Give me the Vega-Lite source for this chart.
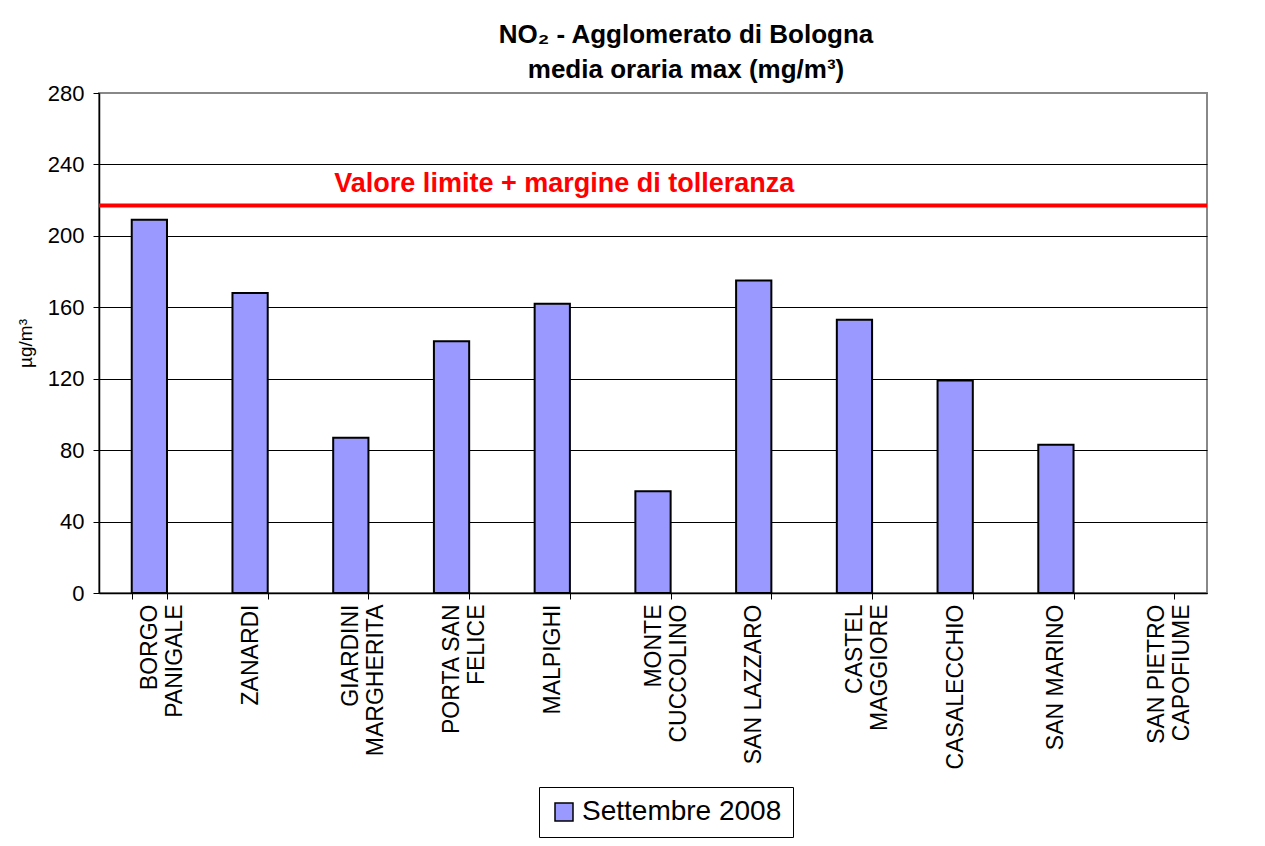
{
  "$schema": "https://vega.github.io/schema/vega-lite/v6.json",
  "width": 1108,
  "height": 500,
  "padding": {"left": 16, "top": 22, "right": 10, "bottom": 5},
  "background": "white",
  "config": {
    "font": "Liberation Sans",
    "view": {"stroke": "#888888", "strokeWidth": 2}
  },
  "title": {
    "text": ["NO₂ - Agglomerato di Bologna", "media oraria max  (mg/m³)"],
    "fontSize": 26,
    "fontWeight": "bold",
    "lineHeight": 35,
    "color": "black",
    "anchor": "middle",
    "offset": -1,
    "dx": 33
  },
  "data": {
    "values": [
      {"station": "BORGO|PANIGALE", "value": 209, "series": "Settembre 2008"},
      {"station": "ZANARDI", "value": 168, "series": "Settembre 2008"},
      {"station": "GIARDINI|MARGHERITA", "value": 87, "series": "Settembre 2008"},
      {"station": "PORTA SAN|FELICE", "value": 141, "series": "Settembre 2008"},
      {"station": "MALPIGHI", "value": 162, "series": "Settembre 2008"},
      {"station": "MONTE|CUCCOLINO", "value": 57, "series": "Settembre 2008"},
      {"station": "SAN LAZZARO", "value": 175, "series": "Settembre 2008"},
      {"station": "CASTEL|MAGGIORE", "value": 153, "series": "Settembre 2008"},
      {"station": "CASALECCHIO", "value": 119, "series": "Settembre 2008"},
      {"station": "SAN MARINO", "value": 83, "series": "Settembre 2008"},
      {"station": "SAN PIETRO|CAPOFIUME", "value": null, "series": "Settembre 2008"}
    ]
  },
  "layer": [
    {
      "mark": {"type": "bar", "stroke": "black", "strokeWidth": 2},
      "encoding": {
        "x": {
          "field": "station",
          "type": "nominal",
          "sort": null,
          "scale": {
            "domain": ["BORGO|PANIGALE", "ZANARDI", "GIARDINI|MARGHERITA", "PORTA SAN|FELICE", "MALPIGHI", "MONTE|CUCCOLINO", "SAN LAZZARO", "CASTEL|MAGGIORE", "CASALECCHIO", "SAN MARINO", "SAN PIETRO|CAPOFIUME"],
            "paddingInner": 0.65,
            "paddingOuter": 0.325
          },
          "axis": {
            "title": null,
            "labelAngle": -90,
            "labelAlign": "right",
            "labelBaseline": "middle",
            "labelExpr": "split(datum.label, '|')",
            "labelFontSize": 23,
            "labelLineHeight": 25,
            "labelColor": "black",
            "labelPadding": 5,
            "tickBand": "extent",
            "tickSize": 6,
            "tickColor": "black",
            "domainColor": "black",
            "domainWidth": 1.5,
            "grid": false
          }
        },
        "y": {
          "field": "value",
          "type": "quantitative",
          "scale": {"domain": [0, 280], "nice": false},
          "axis": {
            "title": "µg/m³",
            "titleFontSize": 19,
            "titleFontWeight": "normal",
            "titleColor": "black",
            "titlePadding": 12,
            "values": [0, 20, 40, 60, 80, 100, 120, 140, 160, 180, 200, 220, 240, 260, 280],
            "labelExpr": "datum.value % 40 === 0 ? datum.label : ''",
            "labelFontSize": 22,
            "labelColor": "black",
            "labelPadding": 9,
            "tickSize": 6,
            "tickColor": "black",
            "domainColor": "black",
            "domainWidth": 1.5,
            "grid": true,
            "gridColor": "black",
            "gridWidth": 1,
            "gridOpacity": {"condition": {"test": "datum.value % 40 === 0 && datum.value < 280", "value": 1}, "value": 0}
          }
        },
        "color": {
          "field": "series",
          "type": "nominal",
          "scale": {"range": ["#9999FF"]},
          "legend": {
            "title": null,
            "orient": "none",
            "legendX": 440,
            "legendY": 694,
            "symbolType": "square",
            "symbolSize": 324,
            "symbolStrokeColor": "black",
            "symbolStrokeWidth": 1.5,
            "symbolOpacity": 1,
            "labelFontSize": 28,
            "labelColor": "black",
            "labelLimit": 400,
            "padding": 11,
            "strokeColor": "black",
            "fillColor": "white"
          }
        }
      }
    },
    {
      "data": {"values": [{"limit": 217, "label": "Valore limite + margine di tolleranza"}]},
      "mark": {"type": "rule", "color": "#FF0000", "strokeWidth": 4},
      "encoding": {"y": {"field": "limit", "type": "quantitative"}}
    },
    {
      "data": {"values": [{"limit": 217, "label": "Valore limite + margine di tolleranza"}]},
      "mark": {"type": "text", "color": "#FF0000", "fontSize": 27, "fontWeight": "bold", "dy": -22, "dx": 12, "align": "center"},
      "encoding": {
        "y": {"field": "limit", "type": "quantitative"},
        "x": {"datum": "MALPIGHI"},
        "text": {"field": "label"}
      }
    }
  ]
}
